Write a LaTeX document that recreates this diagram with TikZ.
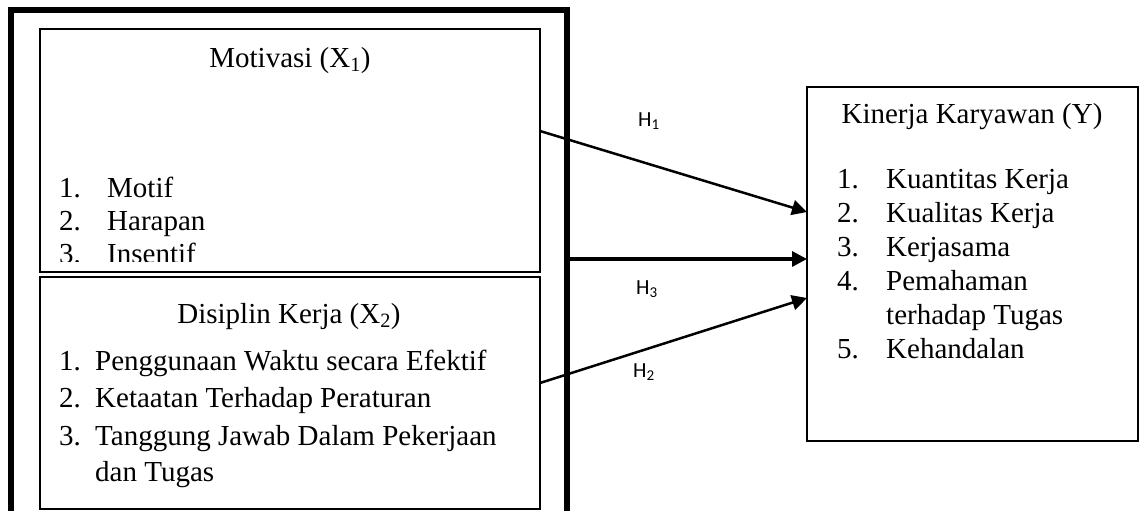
\documentclass[tikz,border=0pt]{standalone}
\usepackage{fontspec}
\setmainfont{Liberation Serif}
\newfontfamily\calib{Carlito}
\usetikzlibrary{arrows.meta}
\tikzset{
  thinbox/.style={draw=black, line width=2pt, inner sep=0pt, outer sep=0pt},
  thickbox/.style={draw=black, line width=5.5pt, inner sep=0pt, outer sep=0pt},
  txt/.style={anchor=base west, inner sep=0pt, font=\fontsize{29}{35}\selectfont},
  ttl/.style={anchor=base, inner sep=0pt, font=\fontsize{29}{35}\selectfont},
  hlab/.style={anchor=base, inner sep=0pt, font=\calib\fontsize{21.5}{24}\selectfont},
  arr/.style={draw=black, line width=2.5pt, -{Triangle[length=15pt,width=15pt]}},
  arrthick/.style={draw=black, line width=3.3pt, -{Triangle[length=15pt,width=15pt]}}
}
\begin{document}
\begin{tikzpicture}[x=1pt,y=-1pt]
\useasboundingbox (0,0) rectangle (1144,511);
\clip (0,0) rectangle (1144,511);
\fill[white] (0,0) rectangle (1144,511);
% outer thick frame (open at bottom, cut by page)
\node[thickbox, minimum width=556pt, minimum height=540pt] (outer) at (289,280) {};
% inner boxes
\node[thinbox, minimum width=500pt, minimum height=242.5pt] (mot) at (290,150.75) {};
\node[thinbox, minimum width=500pt, minimum height=232pt] (dis) at (290,393) {};
\node[thinbox, minimum width=331pt, minimum height=354pt] (kin) at (972.5,264) {};
% Motivasi text
\node[ttl] (motT) at (290,67) {Motivasi (X\textsubscript{1})};
\begin{scope}
\clip (40,30) rectangle (540,261);
\node[txt] (m1n) at (59,197) {1.};
\node[txt] (m1) at (107,197) {Motif};
\node[txt] (m2n) at (59,230) {2.};
\node[txt] (m2) at (107,230) {Harapan};
\node[txt] (m3n) at (59,263) {3.};
\node[txt] (m3) at (107,263) {Insentif};
\end{scope}
% Disiplin text
\node[ttl] (disT) at (289,323) {Disiplin Kerja (X\textsubscript{2})};
\node[txt] (d1n) at (59,370) {1.};
\node[txt] (d1) at (95,370) {Penggunaan Waktu secara Efektif};
\node[txt] (d2n) at (59,407.5) {2.};
\node[txt] (d2) at (95,407.5) {Ketaatan Terhadap Peraturan};
\node[txt] (d3n) at (59,445) {3.};
\node[txt] (d3) at (95,445) {Tanggung Jawab Dalam Pekerjaan};
\node[txt] (d3b) at (95,481) {dan Tugas};
% Kinerja text
\node[ttl] (kinT) at (972,123) {Kinerja Karyawan (Y)};
\node[txt] (k1n) at (837,188) {1.};
\node[txt] (k1) at (886,188) {Kuantitas Kerja};
\node[txt] (k2n) at (837,222.5) {2.};
\node[txt] (k2) at (886,222.5) {Kualitas Kerja};
\node[txt] (k3n) at (837,256.5) {3.};
\node[txt] (k3) at (886,256.5) {Kerjasama};
\node[txt] (k4n) at (837,290.5) {4.};
\node[txt] (k4) at (886,290.5) {Pemahaman};
\node[txt] (k4b) at (886,324) {terhadap Tugas};
\node[txt] (k5n) at (837,358) {5.};
\node[txt] (k5) at (886,358) {Kehandalan};
% arrows
\draw[arr] (mot.east |- 0,131) -- (kin.west |- 0,212);
\draw[arrthick] (outer.east |- 0,259) -- (kin.west |- 0,259);
\draw[arr] (dis.east |- 0,383) -- (kin.west |- 0,298);
% labels
\node[hlab] (h1) at (649,126) {H\textsubscript{1}};
\node[hlab] (h3) at (647,294) {H\textsubscript{3}};
\node[hlab] (h2) at (644,377) {H\textsubscript{2}};
\end{tikzpicture}
\end{document}
